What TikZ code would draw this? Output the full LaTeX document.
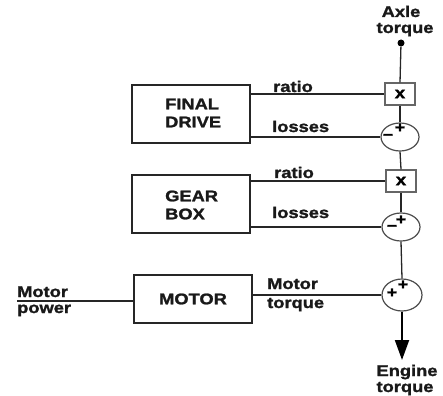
\documentclass[tikz,border=0pt]{standalone}
\usepackage{fontspec}
\newfontfamily\lblfont{Liberation Sans}[BoldFont={Liberation Sans Bold}, BoldFeatures={FakeBold=1.5}, FakeStretch=1.18]
\usetikzlibrary{shapes.geometric,arrows.meta}
\begin{document}
\begin{tikzpicture}[x=1pt,y=-1pt,
  lbl/.style={font=\lblfont\bfseries\fontsize{15.5}{18}\selectfont, inner sep=0pt, text=black!90},
  sgn/.style={font=\lblfont\bfseries\fontsize{15}{15}\selectfont, inner sep=0pt},
  ln/.style={draw=black!85, line width=1.3pt},
  blk/.style={draw=black!85, line width=1.4pt, minimum width=118pt, inner sep=0pt},
  xbox/.style={draw=black!60, line width=1.3pt, minimum width=30pt, minimum height=22pt, inner sep=0pt,
               font=\lblfont\bfseries\fontsize{16}{18}\selectfont},
  sum/.style={ellipse, draw=black!70, line width=1.2pt, minimum width=38pt, minimum height=28pt, inner sep=0pt}]
\useasboundingbox (0,0) rectangle (443,395);

% blocks
\node[blk, minimum height=58pt] (fd) at (191,114) {};
\node[lbl, align=left, anchor=west] (fdt) at (165,113) {FINAL\\DRIVE};
\node[blk, minimum height=58pt] (gb) at (191,204) {};
\node[lbl, align=left, anchor=west] (gbt) at (165,205) {GEAR\\BOX};
\node[blk, minimum height=48pt, lbl] (mot) at (193,299) {MOTOR};

% operators
\node[circle, fill=black, inner sep=0pt, minimum size=7pt] (dot) at (401,43) {};
\node[xbox] (x1) at (400,94) {x};
\node[sum] (s1) at (400,137) {};
\node[xbox] (x2) at (401,181) {x};
\node[sum] (s2) at (401,227) {};
\node[sum, minimum width=40pt, minimum height=32pt] (s3) at (402,295) {};
\coordinate (out) at (402,360);
\coordinate (mp) at (17,301);

% signs
\node[sgn] (p1) at (400,128) {+};
\node[sgn] (m1) at (388,137) {\textminus};
\node[sgn] (p2) at (401,220) {+};
\node[sgn] (m2) at (392,228) {\textminus};
\node[sgn] (p3a) at (392,293) {+};
\node[sgn] (p3b) at (403,285) {+};

% vertical chain
\draw[ln] (dot) -- (x1.north);
\draw[ln] (x1.south) -- (s1.north);
\draw[ln] (s1.south) -- (x2.north);
\draw[ln] (x2.south) -- (s2.north);
\draw[ln] (s2.south) -- (s3.north);
\draw[draw=black, line width=2pt, -{Triangle[width=14pt,length=20pt]}] (s3.south) -- (out);

% horizontal connections
\draw[ln] (fd.east |- x1.west) -- (x1.west);
\draw[ln] (fd.east |- s1.west) -- (s1.west);
\draw[ln] (gb.east |- x2.west) -- (x2.west);
\draw[ln] (gb.east |- s2.west) -- (s2.west);
\draw[ln] (mot.east |- s3.west) -- (s3.west);
\draw[ln] (mp) -- (mot.west |- mp);

% labels
\node[lbl, anchor=base] (ax1) at (401,17) {Axle};
\node[lbl, anchor=base] (ax2) at (405,33) {torque};
\node[lbl, anchor=base west] (r1) at (273,92) {ratio};
\node[lbl, anchor=base west] (l1) at (272,132) {losses};
\node[lbl, anchor=base west] (r2) at (274,178) {ratio};
\node[lbl, anchor=base west] (l2) at (272,218) {losses};
\node[lbl, anchor=base west] (mt1) at (267,289) {Motor};
\node[lbl, anchor=base west] (mt2) at (267,308) {torque};
\node[lbl, anchor=base west] (mp1) at (17,297) {Motor};
\node[lbl, anchor=base west] (mp2) at (17,313) {power};
\node[lbl, anchor=base] (en1) at (407,376) {Engine};
\node[lbl, anchor=base] (en2) at (405,392) {torque};
\end{tikzpicture}
\end{document}
